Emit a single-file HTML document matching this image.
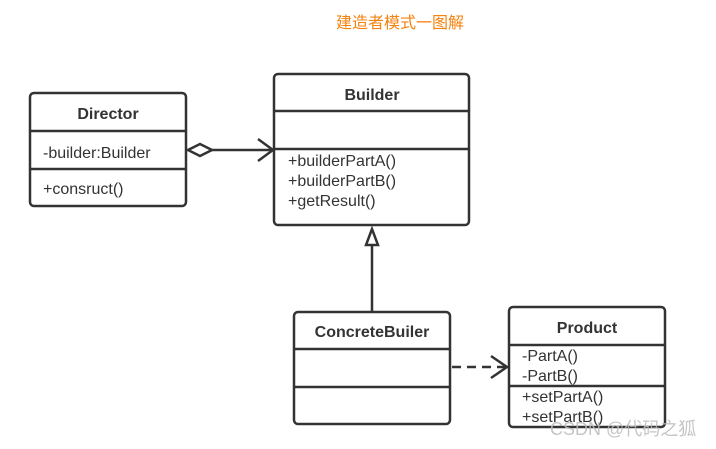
<!DOCTYPE html>
<html><head><meta charset="utf-8"><style>
body{margin:0;width:716px;height:444px;background:#fff;overflow:hidden}
</style></head><body>
<svg width="716" height="444" xmlns="http://www.w3.org/2000/svg" font-family="'Liberation Sans','Noto Sans CJK SC',sans-serif">
<text x="400" y="28" text-anchor="middle" font-size="16" fill="#f5820f">建造者模式一图解</text>
<g stroke="#333" stroke-width="2.5" fill="#fff">
<rect x="30" y="93" width="156" height="113" rx="4"/>
<line x1="30" y1="131" x2="186" y2="131"/><line x1="30" y1="169" x2="186" y2="169"/>
<rect x="274" y="74" width="195" height="151" rx="4"/>
<line x1="274" y1="111" x2="469" y2="111"/><line x1="274" y1="149" x2="469" y2="149"/>
<rect x="294" y="312" width="156" height="112" rx="4"/>
<line x1="294" y1="349" x2="450" y2="349"/><line x1="294" y1="387" x2="450" y2="387"/>
<rect x="509" y="307" width="156" height="120" rx="4"/>
<line x1="509" y1="345" x2="665" y2="345"/><line x1="509" y1="386" x2="665" y2="386"/>
<line x1="212" y1="150" x2="273" y2="150"/>
<polygon points="188,150 200,144 212,150 200,156"/>
<polyline points="258,139 273,150 258,161" fill="none"/>
<line x1="372" y1="311" x2="372" y2="245"/>
<polygon points="372,229 366,245 378,245"/>
<line x1="452" y1="367" x2="507" y2="367" stroke-dasharray="9,6"/>
<polyline points="491,356 507,367 491,378" fill="none"/>
</g>
<g fill="#333" font-size="16">
<text x="108" y="119" text-anchor="middle" font-weight="bold">Director</text>
<text x="43" y="158">-builder:Builder</text>
<text x="43" y="194">+consruct()</text>
<text x="372" y="100" text-anchor="middle" font-weight="bold">Builder</text>
<text x="288" y="166">+builderPartA()</text>
<text x="288" y="186">+builderPartB()</text>
<text x="288" y="206">+getResult()</text>
<text x="372" y="337" text-anchor="middle" font-weight="bold">ConcreteBuiler</text>
<text x="587" y="333" text-anchor="middle" font-weight="bold">Product</text>
<text x="522" y="361">-PartA()</text>
<text x="522" y="381">-PartB()</text>
<text x="522" y="402">+setPartA()</text>
<text x="522" y="422">+setPartB()</text>
</g>
<text x="550" y="435" font-size="18" fill="#bbb" fill-opacity="0.85">CSDN @代码之狐</text>
</svg>
</body></html>
